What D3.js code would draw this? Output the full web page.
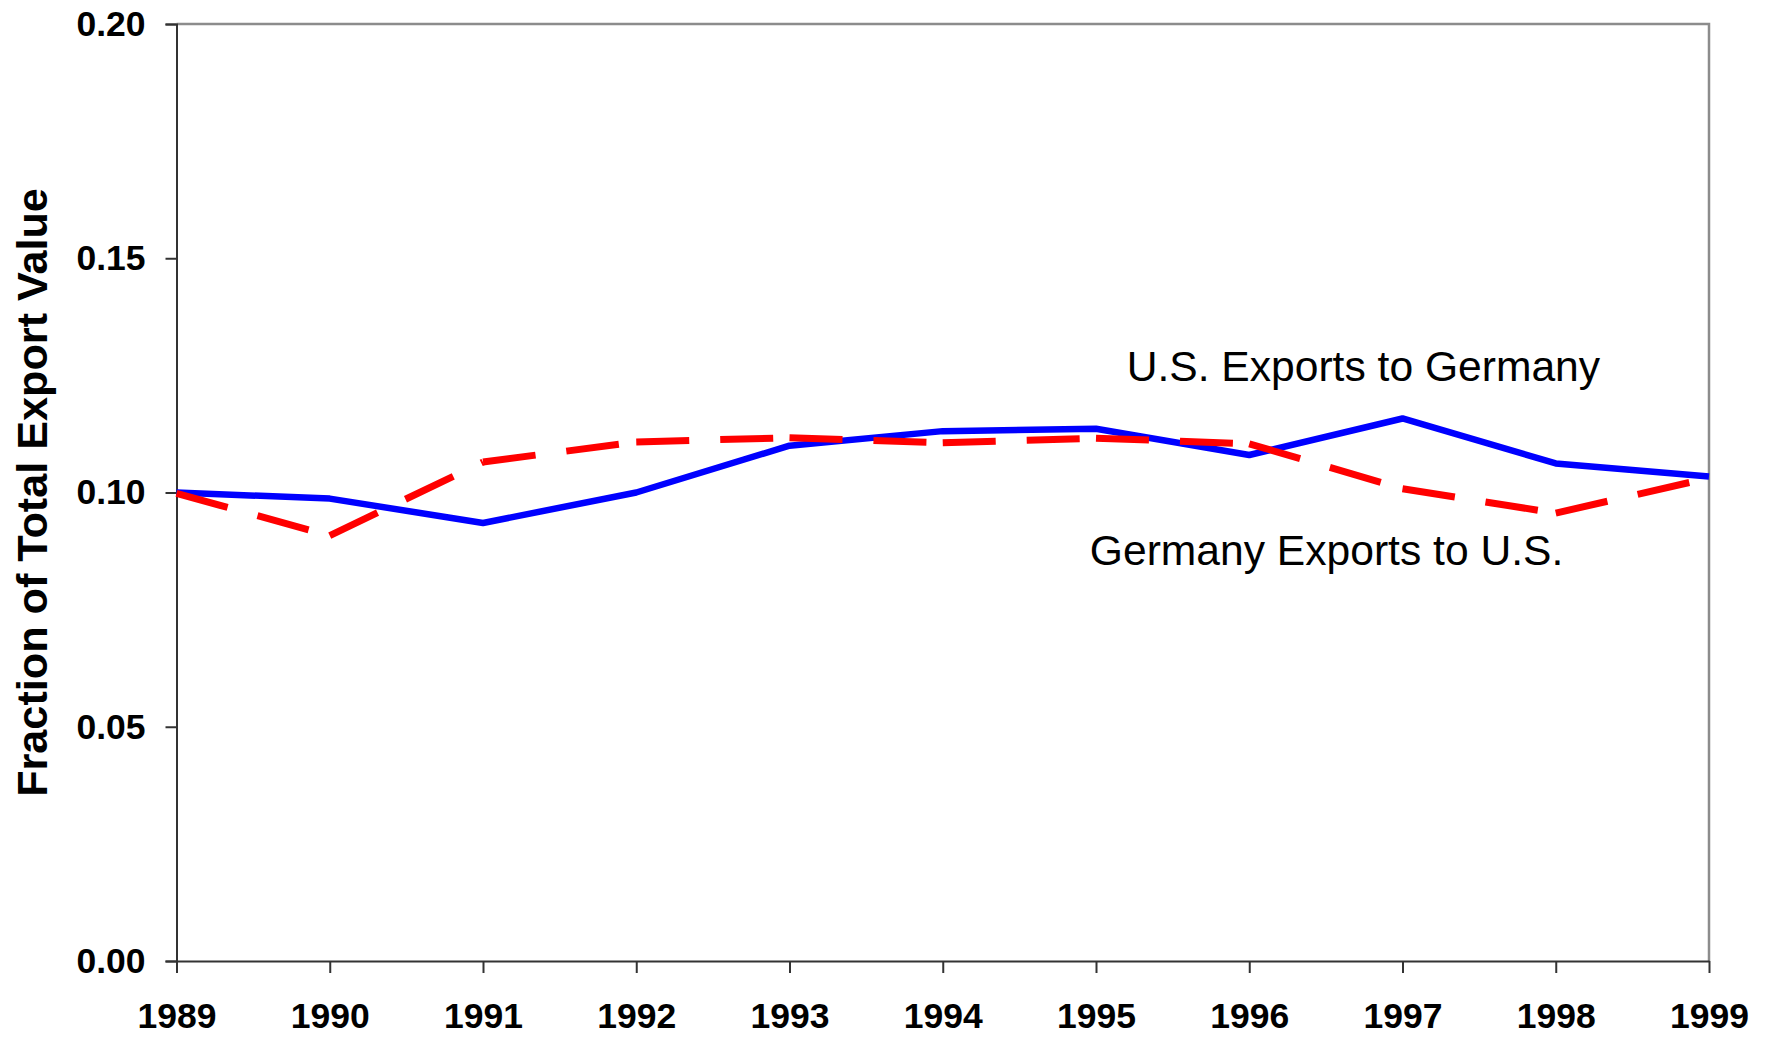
<!DOCTYPE html>
<html>
<head>
<meta charset="utf-8">
<script src="https://cdn.jsdelivr.net/npm/d3@7"></script>
<style>
  body { margin: 0; background: #fff; }
  svg { display: block; font-family: Arial, "Liberation Sans", sans-serif; }
</style>
</head>
<body>
<svg id="graph" width="1771" height="1037"></svg>
<script>
// donnees
const annees = [1989, 1990, 1991, 1992, 1993, 1994, 1995, 1996, 1997, 1998, 1999];
const usVersAllemagne = [0.100, 0.0987, 0.0935, 0.100, 0.1100, 0.1131, 0.1136, 0.1080, 0.1158, 0.1062, 0.1034];
const allemagneVersUs = [0.0998, 0.0908, 0.1065, 0.1108, 0.1117, 0.1106, 0.1116, 0.1104, 0.1008, 0.0956, 0.1031];
const ticksY = [0, 0.05, 0.10, 0.15, 0.20];
const titreY = 'Fraction of Total Export Value';
const etiquettes = [
  {texte: 'U.S. Exports to Germany', annee: 1995.2, valeur: 0.1237},
  {texte: 'Germany Exports to U.S.', annee: 1994.96, valeur: 0.0845}
];

var marge = {haut: 24, droite: 62, bas: 76, gauche: 176.5};
var largeur = 1771, hauteur = 1037;

const svg = d3.select('#graph');

var xScale = d3.scaleLinear().domain([1989, 1999]).range([marge.gauche, largeur - marge.droite]);
var yScale = d3.scaleLinear().domain([0, 0.20]).range([hauteur - marge.bas, marge.haut]);

// cadre gris en haut et a droite
svg.append('path')
  .attr('d', `M${xScale(1989)},${yScale(0.20)}H${xScale(1999)}V${yScale(0)}`)
  .attr('fill', 'none')
  .attr('stroke', '#8c8c8c')
  .attr('stroke-width', 2.5);

// axe Y
var axeY = svg.append('g')
  .attr('transform', `translate(${marge.gauche},0)`)
  .call(d3.axisLeft(yScale).tickValues(ticksY).tickFormat(d3.format('.2f')).tickSize(11).tickPadding(20));
axeY.select('.domain').attr('stroke', '#333').attr('stroke-width', 2);
axeY.selectAll('.tick line').attr('stroke', '#333').attr('stroke-width', 2);
axeY.selectAll('.tick text')
  .attr('font-family', 'Arial, "Liberation Sans", sans-serif')
  .attr('font-size', 35.5).attr('font-weight', 'bold').attr('fill', '#000');

// axe X
var axeX = svg.append('g')
  .attr('transform', `translate(0,${hauteur - marge.bas})`)
  .call(d3.axisBottom(xScale).tickValues(annees).tickFormat(d3.format('d')).tickSize(12).tickPadding(0).tickSizeOuter(0));
axeX.select('.domain').attr('stroke', '#333').attr('stroke-width', 2);
axeX.selectAll('.tick line').attr('stroke', '#333').attr('stroke-width', 2);
axeX.selectAll('.tick text')
  .attr('dy', null)
  .attr('y', 67)
  .attr('font-family', 'Arial, "Liberation Sans", sans-serif')
  .attr('font-size', 35.5).attr('font-weight', 'bold').attr('fill', '#000');

// titre axe Y
svg.append('text')
  .attr('transform', `translate(47,${(yScale(0) + yScale(0.20)) / 2}) rotate(-90)`)
  .attr('text-anchor', 'middle')
  .attr('font-size', 43.2).attr('font-weight', 'bold')
  .text(titreY);

var ligne = d3.line().x(d => xScale(d[0])).y(d => yScale(d[1]));

// serie US (trait plein bleu)
svg.append('path')
  .datum(annees.map((a, i) => [a, usVersAllemagne[i]]))
  .attr('d', ligne)
  .attr('fill', 'none')
  .attr('stroke', '#0000ff')
  .attr('stroke-width', 6.5)
  .attr('stroke-linejoin', 'round');

// serie Allemagne (tirets rouges, motif repris a chaque segment)
var segments = d3.pairs(annees.map((a, i) => [a, allemagneVersUs[i]]));
svg.append('g').selectAll('path').data(segments).enter().append('path')
  .attr('d', d => ligne(d))
  .attr('fill', 'none')
  .attr('stroke', '#ff0000')
  .attr('stroke-width', 7)
  .attr('stroke-dasharray', '53,31');

// etiquettes des series
svg.selectAll('text.etiquette').data(etiquettes).enter().append('text')
  .classed('etiquette', true)
  .attr('x', d => xScale(d.annee))
  .attr('y', d => yScale(d.valeur))
  .attr('font-size', 42.6)
  .attr('fill', '#000')
  .text(d => d.texte);
</script>
</body>
</html>
